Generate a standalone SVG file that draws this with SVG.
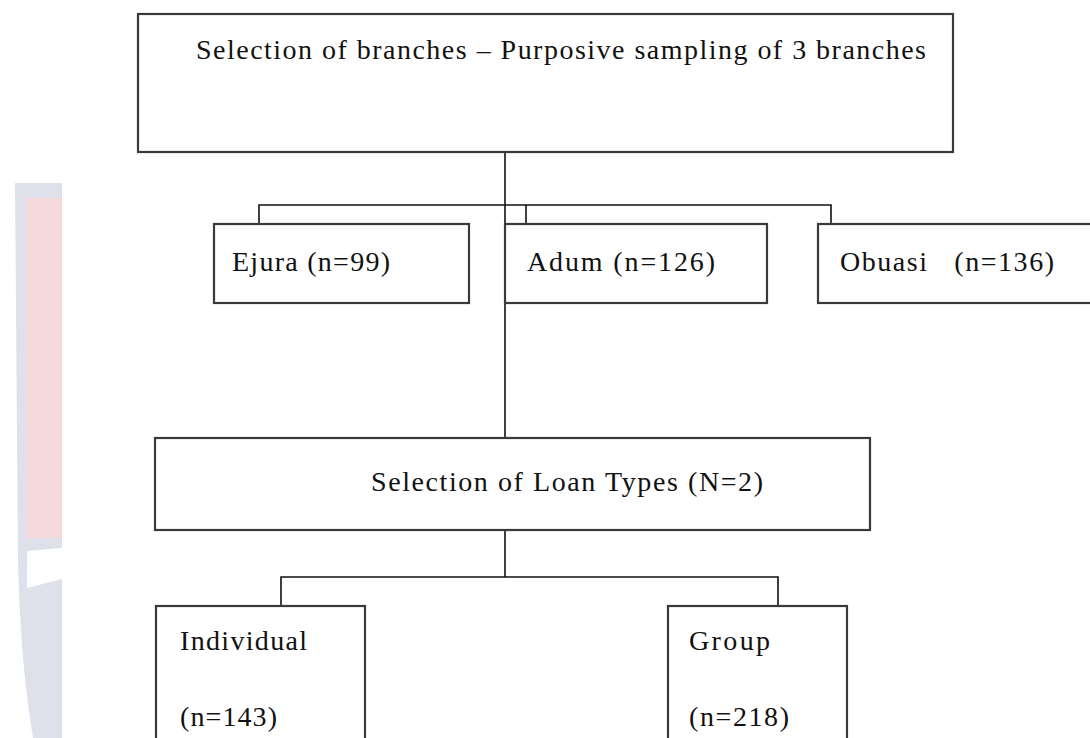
<svg xmlns="http://www.w3.org/2000/svg" width="1090" height="738" viewBox="0 0 1090 738">
<style>
.box{fill:#fff;stroke:#3a3a3a;stroke-width:2.2}
.t{font-family:"Liberation Serif","Times New Roman",serif;font-size:28px;fill:#111}
.c{fill:none;stroke:#111;stroke-width:1.6}
</style>
<rect width="1090" height="738" fill="#fff"/>
<g id="watermark">
<path d="M15,183 L62,183 L62,738 L33,738 Q20,660 18,560 Z" fill="#dfe1ea"/>
<rect x="27" y="198" width="35" height="340" fill="#f6dadb"/>
<path d="M27,551 L62,548 L62,579 L27,588 Z" fill="#fff"/>
</g>
<g id="connectors">
<line class="c" x1="505" y1="152" x2="505" y2="438"/>
<polyline class="c" points="259,224 259,205 831,205 831,224"/>
<line class="c" x1="526" y1="205" x2="526" y2="224"/>
<line class="c" x1="505" y1="530" x2="505" y2="577"/>
<polyline class="c" points="281,606 281,577 778,577 778,606"/>
</g>
<g id="n-top">
<rect class="box" x="138" y="14" width="815" height="138"/>
<text class="t" x="196" y="59" textLength="730" lengthAdjust="spacing">Selection of branches – Purposive sampling of 3 branches</text>
</g>
<g id="n-ejura">
<rect class="box" x="214" y="224" width="255" height="79"/>
<text class="t" x="232" y="271" textLength="158" lengthAdjust="spacing">Ejura (n=99)</text>
</g>
<g id="n-adum">
<rect class="box" x="505" y="224" width="262" height="79"/>
<text class="t" x="527" y="271" textLength="188" lengthAdjust="spacing">Adum (n=126)</text>
</g>
<g id="n-obuasi">
<rect class="box" x="818" y="224" width="290" height="79"/>
<text class="t" x="840" y="271" xml:space="preserve" textLength="214" lengthAdjust="spacing">Obuasi   (n=136)</text>
</g>
<g id="n-loan">
<rect class="box" x="155" y="438" width="715" height="92"/>
<text class="t" x="371" y="491" textLength="392" lengthAdjust="spacing">Selection of Loan Types (N=2)</text>
</g>
<g id="n-individual">
<rect class="box" x="156" y="606" width="209" height="150"/>
<text class="t" x="180" y="650" textLength="127" lengthAdjust="spacing">Individual</text>
<text class="t" x="180" y="726" textLength="97" lengthAdjust="spacing">(n=143)</text>
</g>
<g id="n-group">
<rect class="box" x="668" y="606" width="179" height="150"/>
<text class="t" x="689" y="650" textLength="81" lengthAdjust="spacing">Group</text>
<text class="t" x="689" y="726" textLength="100" lengthAdjust="spacing">(n=218)</text>
</g>
</svg>
